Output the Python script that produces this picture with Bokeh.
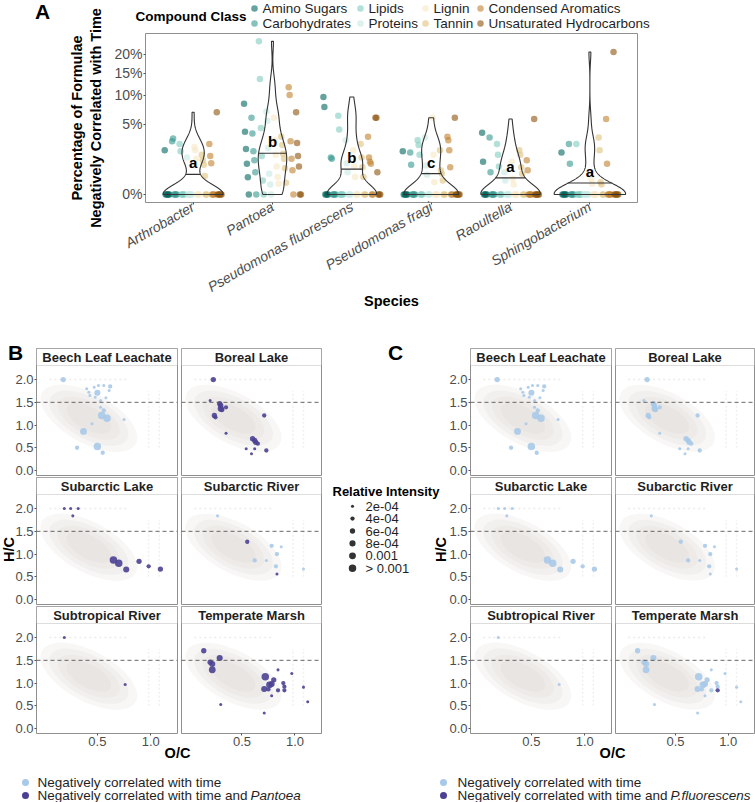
import math
import numpy as np
from bokeh.plotting import figure
from bokeh.models import (Range1d, FixedTicker, Label, Span, BoxAnnotation,
                          PrintfTickFormatter, Spacer)
from bokeh.layouts import column, row
from bokeh.embed import file_html
from bokeh.resources import INLINE
from bokeh.core.properties import value

FONT = "Liberation Sans"
TICK_GREY = "#4d4d4d"
BORDER = "#8f8f8f"
TEXT = "#1f1f1f"

# ---------------- panel A data ----------------
species = ["Arthrobacter", "Pantoea", "Pseudomonas fluorescens",
           "Pseudomonas fragi", "Raoultella", "Sphingobacterium"]
compound_classes = ["Amino Sugars", "Carbohydrates", "Lipids", "Proteins",
                    "Lignin", "Tannin", "Condensed Aromatics", "Unsaturated Hydrocarbons"]
class_colors = ["#01665E", "#35978F", "#80CDC1", "#C7EAE5",
                "#F6E8C3", "#DFC27D", "#BF812D", "#8C510A"]
sig_letters = ["a", "b", "b", "c", "a", "a"]
pct_ticks = [0, 5, 10, 15, 20]

# % of formulae negatively correlated with time; rows follow compound_classes,
# one value per environment
arthrobacter = [
    [2.0, 0, 0, 0, 0, 0],
    [2.9, 3.2, 0, 0, 0, 0],
    [2.6, 1.9, 0, 0, 0, 0],
    [1.4, 0, 0, 0, 0, 0],
    [2.3, 2.0, 1.3, 0, 0, 0],
    [1.6, 1.2, 0.9, 0.35, 0, 0],
    [2.6, 1.5, 1.0, 0, 0, 0],
    [6.9, 0, 0, 0, 0, 0],
]
pantoea = [
    [8.4, 4.0, 2.1, 0.96, 0.3, 0],
    [6.0, 3.8, 1.9, 1.2, 0.5, 0],
    [23.9, 13.6, 4.5, 1.5, 0.2, 0],
    [7.0, 5.5, 2.2, 0.44, 0.1, 0],
    [6.0, 3.0, 1.6, 0.8, 0.31, 0.12],
    [3.4, 2.5, 1.7, 1.3, 0.7, 0.14],
    [11.7, 10.1, 2.9, 1.3, 0.6, 0],
    [6.9, 2.7, 1.5, 0.8, 0, 0],
]
p_fluorescens = [
    [9.7, 7.8, 0, 0, 0, 0],
    [1.4, 1.3, 0, 0, 0, 0],
    [6.3, 4.3, 0, 0, 0, 0],
    [3.0, 1.0, 0.5, 0, 0, 0],
    [2.0, 0.8, 0.31, 0, 0, 0],
    [2.6, 1.4, 0.76, 0.31, 0, 0],
    [3.4, 1.4, 1.1, 0.96, 0, 0],
    [6.0, 6.0, 0.5, 0, 0, 0],
]
p_fragi = [
    [1.9, 0, 0, 0, 0, 0],
    [1.8, 0.9, 0, 0, 0, 0],
    [3.0, 2.5, 1.6, 0, 0, 0],
    [3.3, 0.86, 0.4, 0, 0, 0],
    [6.0, 1.6, 0.15, 0, 0, 0],
    [2.0, 0.59, 0.44, 0.2, 0, 0],
    [3.4, 3.0, 2.0, 0.76, 0, 0],
    [6.0, 0, 0, 0, 0, 0],
]
raoultella = [
    [3.9, 1.1, 0, 0, 0, 0],
    [3.3, 0.5, 0, 0, 0, 0],
    [2.6, 1.6, 0.8, 0, 0, 0],
    [0.5, 0.2, 0, 0, 0, 0],
    [1.1, 0.25, 0.1, 0, 0, 0],
    [2.0, 1.6, 0.76, 0.44, 0, 0],
    [1.2, 0.6, 0, 0, 0, 0],
    [5.8, 0, 0, 0, 0, 0],
]
sphingobacterium = [
    [1.8, 0, 0, 0, 0, 0],
    [2.6, 0.96, 0, 0, 0, 0],
    [2.6, 0, 0, 0, 0, 0],
    [0, 0, 0, 0, 0, 0],
    [0.25, 0.12, 0, 0, 0, 0],
    [3.3, 2.0, 0.15, 0.1, 0, 0],
    [5.8, 0.96, 0, 0, 0, 0],
    [20.7, 0, 0, 0, 0, 0],
]
species_values = [arthrobacter, pantoea, p_fluorescens, p_fragi, raoultella, sphingobacterium]

# ---------------- panels B / C data ----------------
environments = ["Beech Leaf Leachate", "Boreal Lake", "Subarctic Lake",
                "Subarctic River", "Subtropical River", "Temperate Marsh"]
# (O/C, H/C, relative intensity, also correlated with Pantoea, also with P. fluorescens)
beech_leaf = [
    (0.18, 2.00, 6e-4, 0, 0), (0.50, 1.71, 8e-4, 0, 0), (0.54, 1.21, 1.2e-3, 0, 0),
    (0.59, 1.15, 1.2e-3, 0, 0), (0.37, 0.86, 1.0e-3, 0, 0), (0.50, 0.53, 1.2e-3, 0, 0),
    (0.31, 0.50, 4e-4, 0, 0), (0.55, 0.39, 4e-4, 0, 0), (0.45, 1.03, 2e-4, 0, 0),
    (0.42, 1.72, 2e-4, 0, 0), (0.47, 1.83, 2e-4, 0, 0), (0.51, 1.87, 2e-4, 0, 0),
    (0.56, 1.87, 2e-4, 0, 0), (0.62, 1.85, 4e-4, 0, 0), (0.43, 1.65, 2e-4, 0, 0),
    (0.48, 1.61, 2e-4, 0, 0), (0.53, 1.54, 2e-4, 0, 0), (0.58, 1.60, 2e-4, 0, 0),
    (0.61, 1.76, 2e-4, 0, 0), (0.40, 1.80, 2e-4, 0, 0), (0.53, 1.39, 2e-4, 0, 0),
    (0.56, 1.32, 4e-4, 0, 0), (0.75, 1.12, 2e-4, 0, 0),
]
boreal_lake = [
    (0.23, 2.00, 6e-4, 1, 0), (0.20, 1.54, 2e-4, 1, 0), (0.29, 1.47, 6e-4, 1, 0),
    (0.30, 1.43, 6e-4, 1, 0), (0.30, 1.36, 8e-4, 1, 0), (0.31, 1.34, 6e-4, 1, 0),
    (0.35, 1.39, 4e-4, 1, 0), (0.24, 1.21, 6e-4, 1, 0), (0.25, 1.17, 4e-4, 1, 0),
    (0.35, 0.82, 2e-4, 1, 0), (0.71, 1.21, 4e-4, 1, 0), (0.60, 0.70, 6e-4, 1, 0),
    (0.62, 0.66, 6e-4, 1, 0), (0.63, 0.62, 6e-4, 1, 0), (0.65, 0.59, 4e-4, 1, 0),
    (0.54, 0.48, 2e-4, 1, 0), (0.73, 0.44, 4e-4, 1, 0), (0.62, 0.48, 2e-4, 1, 0),
    (0.59, 0.37, 2e-4, 1, 0),
]
subarctic_lake = [
    (0.19, 2.00, 2e-4, 1, 0), (0.25, 2.00, 2e-4, 1, 0), (0.32, 2.00, 2e-4, 1, 0),
    (0.27, 1.84, 2e-4, 1, 0), (0.65, 0.87, 1.2e-3, 1, 0), (0.70, 0.80, 1.2e-3, 1, 0),
    (0.77, 0.66, 8e-4, 1, 0), (0.89, 0.84, 6e-4, 1, 0), (0.98, 0.73, 4e-4, 1, 0),
    (1.09, 0.67, 6e-4, 1, 0),
]
subarctic_river = [
    (0.55, 1.27, 4e-4, 1, 0), (0.27, 1.84, 2e-4, 0, 0), (0.62, 0.86, 4e-4, 0, 0),
    (0.73, 0.86, 2e-4, 0, 0), (0.78, 1.18, 4e-4, 0, 0), (0.83, 1.00, 4e-4, 0, 0),
    (0.87, 1.16, 2e-4, 0, 0), (0.82, 0.73, 4e-4, 0, 0), (0.83, 0.56, 2e-4, 1, 0),
    (1.08, 0.67, 2e-4, 0, 0),
]
subtropical_river = [
    (0.19, 2.00, 2e-4, 1, 0), (0.76, 0.97, 2e-4, 1, 0),
]
temperate_marsh = [
    (0.14, 1.71, 6e-4, 1, 0), (0.20, 1.46, 6e-4, 1, 0), (0.22, 1.42, 8e-4, 1, 0),
    (0.29, 1.55, 8e-4, 1, 0), (0.22, 1.29, 1.0e-3, 1, 0), (0.30, 0.53, 2e-4, 1, 0),
    (0.72, 1.14, 1.2e-3, 1, 0), (0.80, 1.07, 6e-4, 1, 0), (0.76, 0.96, 1.0e-3, 1, 0),
    (0.78, 0.98, 8e-4, 1, 0), (0.71, 0.87, 8e-4, 1, 0), (0.75, 0.86, 4e-4, 1, 0),
    (0.84, 0.84, 4e-4, 1, 0), (0.89, 1.00, 4e-4, 1, 0), (0.90, 0.92, 4e-4, 1, 0),
    (0.90, 0.84, 4e-4, 1, 1), (0.78, 0.72, 2e-4, 1, 0), (0.97, 1.21, 2e-4, 1, 0),
    (1.08, 0.91, 2e-4, 1, 0), (1.12, 0.59, 2e-4, 1, 0), (0.71, 0.34, 2e-4, 1, 0),
    (0.84, 1.29, 2e-4, 1, 0),
]
env_points = [beech_leaf, boreal_lake, subarctic_lake, subarctic_river,
              subtropical_river, temperate_marsh]

# all detected formulae, summarised as a density cloud (centre, spread, tilt)
cloud_center = (0.42, 1.15)
cloud_width, cloud_height, cloud_angle = 1.0, 1.1, -0.5
cloud_levels = [1.0, 0.82, 0.64, 0.46]
# formula series that line up at fixed O/C, and the H/C = 2 row
streak_oc = [0.98, 1.08]
streak_hc = (0.5, 1.75)
row_hc = 2.0
row_oc = (0.05, 0.8)

size_breaks = [2e-4, 4e-4, 6e-4, 8e-4, 1e-3, 1.2e-3]
size_labels = ["2e-04", "4e-04", "6e-04", "8e-04", "0.001", "> 0.001"]

LIGHT_BLUE = "#a9c9e8"
PURPLE = "#4b4194"
CLOUD = "#d8cdc8"


def dot_size(intensity):
    return 7.5 * math.sqrt(min(intensity, 1.2e-3) / 1.2e-3)


# ---------------- panel A ----------------
pA = figure(width=755, height=340, x_range=Range1d(0.4, 6.6), y_range=Range1d(-0.256, 5.14),
            output_backend="svg", toolbar_location=None,
            min_border_left=145, min_border_right=118, min_border_top=33, min_border_bottom=138)
pA.grid.visible = False
pA.outline_line_color = BORDER

dodge = np.linspace(-0.328, 0.328, len(compound_classes))
jitter = [-0.03, -0.018, -0.006, 0.006, 0.018, 0.03]

for k, cls in enumerate(compound_classes):
    xs, ys = [], []
    for i, vals in enumerate(species_values):
        for j, v in enumerate(vals[k]):
            xs.append(i + 1 + dodge[k] + jitter[j])
            ys.append(math.sqrt(v))
    pA.scatter(xs, ys, size=6.5, fill_color=class_colors[k], fill_alpha=0.6, line_color=None)

# violins: Gaussian kernel density on the square-root scale, trimmed to the data range
BW = 0.32
grids, dens = [], []
for vals in species_values:
    s = np.sqrt(np.ravel(np.array(vals, dtype=float)))
    g = np.linspace(s.min(), s.max(), 512)
    d = np.exp(-0.5 * ((g[:, None] - s[None, :]) / BW) ** 2).sum(axis=1) / (s.size * BW * math.sqrt(2 * math.pi))
    grids.append(g)
    dens.append(d)
dmax = max(d.max() for d in dens)

vx, vy, mx0, mx1, my = [], [], [], [], []
for i, (g, d) in enumerate(zip(grids, dens)):
    hw = 0.45 * d / dmax
    c = i + 1
    vx.append(np.concatenate([c + hw, (c - hw)[::-1]]))
    vy.append(np.concatenate([g, g[::-1]]))
    cdf = np.cumsum(d) / d.sum()
    med = float(np.interp(0.5, cdf, g))
    w = float(np.interp(med, g, hw))
    mx0.append(c - w)
    mx1.append(c + w)
    my.append(med)

pA.patches(vx, vy, fill_color=None, line_color="#333333", line_width=1.1)
pA.segment(mx0, my, mx1, my, line_color="#333333", line_width=1.1)
pA.text(x=list(range(1, 7)), y=my, text=sig_letters, text_font=value(FONT),
        text_font_style="bold", text_font_size="15px", text_color="black",
        text_align="center", text_baseline="bottom", y_offset=-3)

pA.yaxis.ticker = FixedTicker(ticks=[math.sqrt(t) for t in pct_ticks])
pA.yaxis.major_label_overrides = {math.sqrt(t): f"{t}%" for t in pct_ticks}
pA.xaxis.ticker = FixedTicker(ticks=list(range(1, 7)))
pA.xaxis.major_label_overrides = {i + 1: s for i, s in enumerate(species)}
pA.xaxis.major_label_orientation = math.pi / 6
pA.xaxis.major_label_text_font_style = "italic"
for ax in (pA.xaxis, pA.yaxis):
    ax.axis_line_color = None
    ax.major_tick_line_color = "#555555"
    ax.major_tick_out = 2
    ax.major_tick_in = 0
    ax.minor_tick_line_color = None
    ax.major_label_standoff = 1
    ax.major_label_text_font = FONT
    ax.major_label_text_font_size = "14px"
    ax.major_label_text_color = TICK_GREY
    ax.axis_label_text_font = FONT
    ax.axis_label_text_font_style = "bold"
    ax.axis_label_text_font_size = "14.5px"
    ax.axis_label_text_color = "black"
pA.yaxis.axis_label = "Percentage of Formulae\nNegatively Correlated with Time"
pA.yaxis.axis_label_standoff = 7
pA.xaxis.axis_label = "Species"
pA.xaxis.axis_label_standoff = -12

# ---------------- panels B and C ----------------
X_RANGE = (-0.07, 1.25)
Y_LO, Y_HI = -0.11, 2.31
DATA_H, STRIP_H = 110, 17
Y_TOP = Y_HI + STRIP_H * (Y_HI - Y_LO) / DATA_H


def make_facet(env_idx, flag_idx, col, rowi, side):
    if side == "B":
        left, fw, right = (36, 141, 3) if col == 0 else (1, 140, 1)
    else:
        left, fw, right = (25, 141, 3) if col == 0 else (1, 139, 1)
    top = 8 if rowi == 0 else 0
    bottom = 17 if rowi == 2 else 2
    p = figure(width=left + fw + right, height=top + DATA_H + STRIP_H + bottom,
               x_range=Range1d(*X_RANGE), y_range=Range1d(Y_LO, Y_TOP),
               output_backend="svg", toolbar_location=None,
               x_axis_location="below" if rowi == 2 else None,
               y_axis_location="left" if col == 0 else None,
               min_border_left=left, min_border_right=right,
               min_border_top=top, min_border_bottom=bottom)
    p.grid.visible = False
    p.outline_line_color = BORDER

    for lv in cloud_levels:
        p.ellipse(x=[cloud_center[0]], y=[cloud_center[1]], width=cloud_width * lv,
                  height=cloud_height * lv, angle=cloud_angle,
                  fill_color=CLOUD, fill_alpha=0.17, line_color=None)
    p.segment(x0=streak_oc, y0=[streak_hc[0]] * len(streak_oc), x1=streak_oc,
              y1=[streak_hc[1]] * len(streak_oc), line_color=CLOUD, line_alpha=0.3,
              line_width=1.5, line_dash="2 2")
    p.segment(x0=[row_oc[0]], y0=[row_hc], x1=[row_oc[1]], y1=[row_hc], line_color=CLOUD,
              line_alpha=0.4, line_width=1.5, line_dash="2 3")

    pts = env_points[env_idx]
    base = [q for q in pts if not q[flag_idx]]
    hi = [q for q in pts if q[flag_idx]]
    for grp, color in ((base, LIGHT_BLUE), (hi, PURPLE)):
        if grp:
            p.scatter([q[0] for q in grp], [q[1] for q in grp],
                      size=[dot_size(q[2]) for q in grp],
                      fill_color=color, fill_alpha=0.9, line_color=None)

    p.add_layout(Span(location=1.5, dimension="width", line_color="#555555",
                      line_dash="4 3", line_width=0.9))
    p.add_layout(BoxAnnotation(bottom=Y_HI, fill_color="white", fill_alpha=1,
                               line_color=BORDER, line_width=1))
    p.add_layout(Label(x=sum(X_RANGE) / 2, y=(Y_HI + Y_TOP) / 2, text=environments[env_idx],
                       text_font=FONT, text_font_style="bold", text_font_size="13px",
                       text_align="center", text_baseline="middle", text_color=TEXT))

    if col == 0:
        ax = p.yaxis[0]
        ax.ticker = FixedTicker(ticks=[0, 0.5, 1.0, 1.5, 2.0])
        ax.formatter = PrintfTickFormatter(format="%.1f")
    if rowi == 2:
        ax = p.xaxis[0]
        ax.ticker = FixedTicker(ticks=[0.5, 1.0])
        ax.formatter = PrintfTickFormatter(format="%.1f")
    for ax in p.axis:
        ax.axis_line_color = None
        ax.major_tick_line_color = "#555555"
        ax.major_tick_out = 2
        ax.major_tick_in = 0
        ax.minor_tick_line_color = None
        ax.major_label_standoff = 1
        ax.major_label_text_font = FONT
        ax.major_label_text_font_size = "13px"
        ax.major_label_text_color = TICK_GREY
    return p


def facet_grid(flag_idx, side):
    return column(*[row(*[make_facet(r * 2 + c, flag_idx, c, r, side) for c in range(2)])
                    for r in range(3)])


grid_row = row(facet_grid(3, "B"), Spacer(width=123, height=410), facet_grid(4, "C"))

# ---------------- page-level annotation layer (pixel coordinates, y downwards) ----------------
W, H = 755, 802
ov = figure(width=W, height=H, x_range=Range1d(0, W), y_range=Range1d(H, 0),
            output_backend="svg", toolbar_location=None, x_axis_location=None,
            y_axis_location=None, min_border=0)
ov.grid.visible = False
ov.outline_line_color = None
ov.background_fill_alpha = 0
ov.border_fill_alpha = 0


def note(x, y, text, size="13.5px", style="normal", align="left", angle=0.0, color=TEXT):
    ov.add_layout(Label(x=x, y=y, text=text, text_font=FONT, text_font_size=size,
                        text_font_style=style, text_align=align, text_baseline="middle",
                        angle=angle, text_color=color))


# panel letters
note(42, 11, "A", size="21px", style="bold", align="center", color="black")
note(15, 352, "B", size="21px", style="bold", align="center", color="black")
note(395, 352, "C", size="21px", style="bold", align="center", color="black")

# compound class key (two rows, four columns)
note(135, 16, "Compound Class", size="13.5px", style="bold", color="black")
key_x = [254, 360, 425, 480]
key_y = [8, 23]
kx, ky = [], []
for k, cls in enumerate(compound_classes):
    x0, y0 = key_x[k // 2], key_y[k % 2]
    kx.append(x0)
    ky.append(y0)
    note(x0 + 8, y0, cls)
ov.scatter(kx, ky, size=6.5, fill_color=class_colors, fill_alpha=0.6, line_color=None)

# facet axis titles
for x in (8, 440):
    note(x, 549, "H/C", size="14.5px", style="bold", align="center", angle=math.pi / 2,
         color="black")
for x in (177, 612):
    note(x, 752, "O/C", size="14.5px", style="bold", align="center", color="black")

# relative intensity key
note(332, 491, "Relative Intensity", size="13px", style="bold", color="black")
size_key_y = [505.7 + 12.4 * k for k in range(len(size_breaks))]
ov.scatter([352] * len(size_breaks), size_key_y, size=[dot_size(b) for b in size_breaks],
           fill_color="#333333", line_color=None)
for yk, lab in zip(size_key_y, size_labels):
    note(365, yk, lab, size="13px")

# highlight colour keys under panels B and C
for dot_x, text_x, partner in ((25, 37, "Pantoea"), (443, 457, "P.fluorescens")):
    ov.scatter([dot_x, dot_x], [782, 795], size=7, fill_color=[LIGHT_BLUE, PURPLE],
               line_color=None)
    note(text_x, 782, "Negatively correlated with time")
    note(text_x, 795, "Negatively correlated with time and ")
    note(text_x + 213, 795, partner, style="italic")

layout = column(row(pA), grid_row, row(ov, margin=(-750, 0, 0, 0)))
open("out.html", "w").write(file_html(layout, INLINE))
